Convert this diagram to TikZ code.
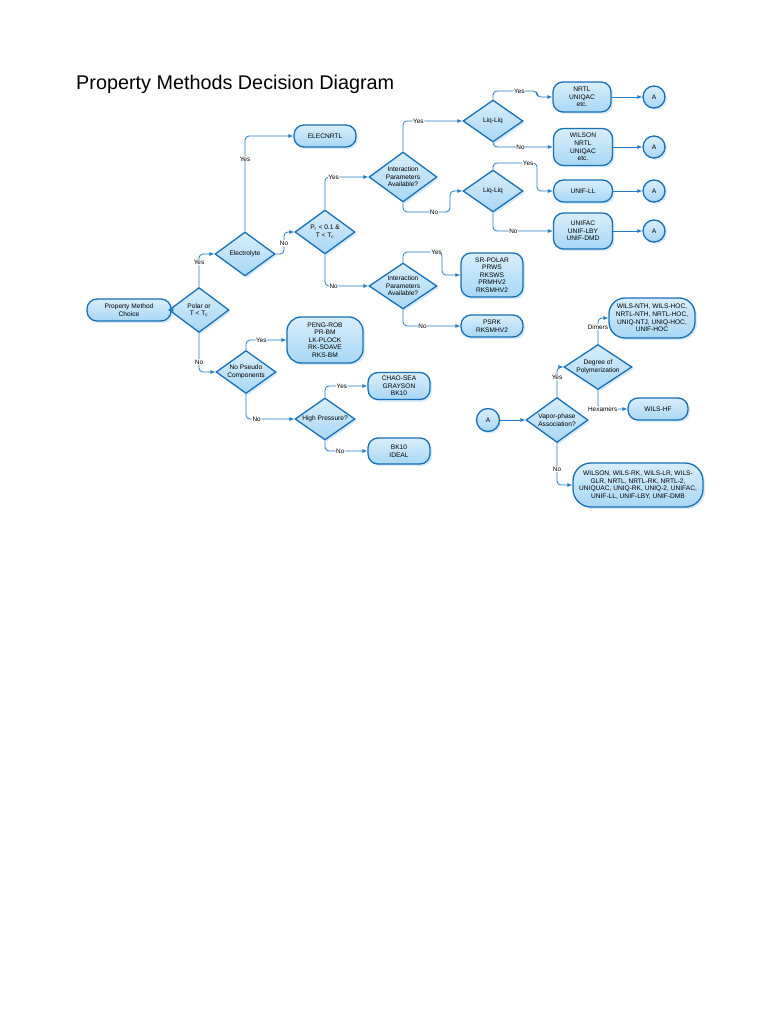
\documentclass[tikz,border=0pt]{standalone}
\usepackage{fontspec}
\setmainfont{Liberation Sans}
\usepackage{tikz}
\usetikzlibrary{shapes,arrows,positioning,calc,shadows,arrows.meta}
\definecolor{edgeBlue}{RGB}{22, 112, 182}
\definecolor{fillBlue}{RGB}{168, 215, 245}
\definecolor{fillLight}{RGB}{215, 238, 252}
\definecolor{shadeBlue}{RGB}{190, 222, 244}
\definecolor{lineBlue}{RGB}{35, 125, 195}

\tikzset{
  base/.style={draw=edgeBlue,line width=1.3pt,top color=fillLight,bottom color=fillBlue,
    align=center,inner sep=1pt,font=\fontsize{6.6}{7.6}\selectfont,
    drop shadow={shadow xshift=2pt,shadow yshift=-2pt,fill=shadeBlue,opacity=0.6}},
  pill/.style={base,rectangle,rounded corners=10pt},
  choice/.style={base,diamond,aspect=1.4,inner sep=-1pt},
  conn/.style={base,circle,minimum size=22pt,inner sep=0pt},
  flow/.style={draw=lineBlue,line width=0.8pt,rounded corners=4pt,-{Latex[length=5pt,width=4pt]}},
  lbl/.style={fill=white,inner sep=0.6pt,font=\fontsize{6.4}{7}\selectfont}
}

\begin{document}
\begin{tikzpicture}[x=1pt,y=-1pt]
        \useasboundingbox[fill=white] (0,0) rectangle (768,1024);

        % Title
        \node[anchor=base west,inner sep=0pt,font=\fontsize{19.8}{24}\selectfont] (title) at (76,90) {Property Methods Decision Diagram};

        % Start and first decisions
        \node[pill,minimum width=84pt,minimum height=22pt] (start) at (129,310) {Property Method\\Choice};
        \node[choice,minimum width=60pt,minimum height=45pt] (polar) at (199,310) {Polar or\\T < T\textsubscript{c}};
        \node[choice,minimum width=60pt,minimum height=44pt] (elec) at (245,254) {Electrolyte};
        \node[pill,minimum width=62pt,minimum height=22pt] (elecnrtl) at (325,136) {ELECNRTL};
        \node[choice,minimum width=60pt,minimum height=44pt] (prtc) at (325,232) {P\textsubscript{r} < 0.1 \&\\T < T\textsubscript{c}};

        % Interaction parameters, upper branch
        \node[choice,minimum width=68pt,minimum height=50pt] (ipaup) at (403,177) {Interaction\\Parameters\\Available?};
        \node[choice,minimum width=60pt,minimum height=42pt] (liqup) at (493,121) {Liq-Liq};
        \node[choice,minimum width=60pt,minimum height=42pt] (liqlow) at (493,191) {Liq-Liq};
        \node[pill,minimum width=58pt,minimum height=30pt] (nrtl) at (582,97) {NRTL\\UNIQAC\\etc.};
        \node[pill,minimum width=59pt,minimum height=37pt] (wilson) at (583,147) {WILSON\\NRTL\\UNIQAC\\etc.};
        \node[pill,minimum width=59pt,minimum height=22pt] (unifll) at (583,191) {UNIF-LL};
        \node[pill,minimum width=59pt,minimum height=36pt] (unifac) at (583,231) {UNIFAC\\UNIF-LBY\\UNIF-DMD};
        \node[conn] (aone) at (654,97) {A};
        \node[conn] (atwo) at (654,147) {A};
        \node[conn] (athree) at (654,191) {A};
        \node[conn] (afour) at (654,231) {A};

        % Interaction parameters, lower branch
        \node[choice,minimum width=68pt,minimum height=46pt] (ipalow) at (403,286) {Interaction\\Parameters\\Available?};
        \node[pill,minimum width=62pt,minimum height=44pt] (srpolar) at (492,275) {SR-POLAR\\PRWS\\RKSWS\\PRMHV2\\RKSMHV2};
        \node[pill,minimum width=62pt,minimum height=22pt] (psrk) at (492,326) {PSRK\\RKSMHV2};

        % Non polar side
        \node[choice,minimum width=60pt,minimum height=43pt] (pseudo) at (246,372) {No Pseudo\\Components};
        \node[pill,minimum width=76pt,minimum height=46pt,rounded corners=14pt] (pengrob) at (325,340) {PENG-ROB\\PR-BM\\LK-PLOCK\\RK-SOAVE\\RKS-BM};
        \node[choice,minimum width=60pt,minimum height=42pt] (highp) at (325,419) {High Pressure?};
        \node[pill,minimum width=62pt,minimum height=27pt] (chaosea) at (399,386) {CHAO-SEA\\GRAYSON\\BK10};
        \node[pill,minimum width=62pt,minimum height=26pt] (bkideal) at (399,451) {BK10\\IDEAL};

        % Vapor phase association
        \node[conn,minimum size=23pt] (avap) at (488,420) {A};
        \node[choice,minimum width=62pt,minimum height=45pt] (vapor) at (557,420) {Vapor-phase\\Association?};
        \node[choice,minimum width=68pt,minimum height=45pt] (degree) at (598,367) {Degree of\\Polymerization};
        \node[pill,minimum width=86pt,minimum height=40pt,rounded corners=16pt] (dimers) at (652,318) {WILS-NTH, WILS-HOC,\\NRTL-NTH, NRTL-HOC,\\UNIQ-NTJ, UNIQ-HOC,\\UNIF-HOC};
        \node[pill,minimum width=60pt,minimum height=22pt] (wilshf) at (658,409) {WILS-HF};
        \node[pill,minimum width=130pt,minimum height=44pt,rounded corners=18pt] (novap) at (638,485) {WILSON, WILS-RK, WILS-LR, WILS-\\GLR, NRTL, NRTL-RK, NRTL-2,\\UNIQUAC, UNIQ-RK, UNIQ-2, UNIFAC,\\UNIF-LL, UNIF-LBY, UNIF-DMB};

        % Connectors
        \draw[flow] (start) -- (polar);
        \draw[flow] (polar.north) |- node[lbl,pos=0.37] {Yes} (elec.west);
        \draw[flow] (elec.north) |- node[lbl,pos=0.38] {Yes} (elecnrtl.west);
        \draw[flow] (elec.east) -| node[lbl,pos=0.75] {No} (284,232) -- (prtc.west);
        \draw[flow] (prtc.north) |- node[lbl,pos=0.6] {Yes} (ipaup.west);
        \draw[flow] (prtc.south) |- node[lbl,pos=0.6] {No} (ipalow.west);
        \draw[flow] (ipaup.north) |- node[lbl,pos=0.63] {Yes} (liqup.west);
        \draw[flow] (ipaup.south) |- node[lbl,pos=0.83] {No} (450,212) |- (liqlow.west);
        \draw[flow] (liqup.north) |- node[lbl,pos=0.8] {Yes} (537,91) |- (nrtl.west);
        \draw[flow] (liqup.south) |- node[lbl,pos=0.73] {No} (wilson.west);
        \draw[flow] (liqlow.north) |- node[lbl,pos=0.9] {Yes} (537,163) |- (unifll.west);
        \draw[flow] (liqlow.south) |- node[lbl,pos=0.67] {No} (unifac.west);
        \draw[flow] (nrtl) -- (aone);
        \draw[flow] (wilson) -- (atwo);
        \draw[flow] (unifll) -- (athree);
        \draw[flow] (unifac) -- (afour);
        \draw[flow] (ipalow.north) |- node[lbl,pos=0.93] {Yes} (442,252) |- (srpolar.west);
        \draw[flow] (ipalow.south) |- node[lbl,pos=0.67] {No} (psrk.west);
        \draw[flow] (polar.south) |- node[lbl,pos=0.37] {No} (pseudo.west);
        \draw[flow] (pseudo.north) |- node[lbl,pos=0.69] {Yes} (pengrob.west);
        \draw[flow] (pseudo.south) |- node[lbl,pos=0.61] {No} (highp.west);
        \draw[flow] (highp.north) |- node[lbl,pos=0.7] {Yes} (chaosea.west);
        \draw[flow] (highp.south) |- node[lbl,pos=0.68] {No} (bkideal.west);
        \draw[flow] (avap) -- (vapor);
        \draw[flow] (vapor.north) |- node[lbl,pos=0.32] {Yes} (degree.west);
        \draw[flow] (vapor.south) |- node[lbl,pos=0.31] {No} (novap.west);
        \draw[flow] (degree.north) |- node[lbl,pos=0.33] {Dimers} (dimers.west);
        \draw[flow] (degree.south) |- node[lbl,pos=0.58] {Hexamers} (wilshf.west);
    \end{tikzpicture}
\end{document}
